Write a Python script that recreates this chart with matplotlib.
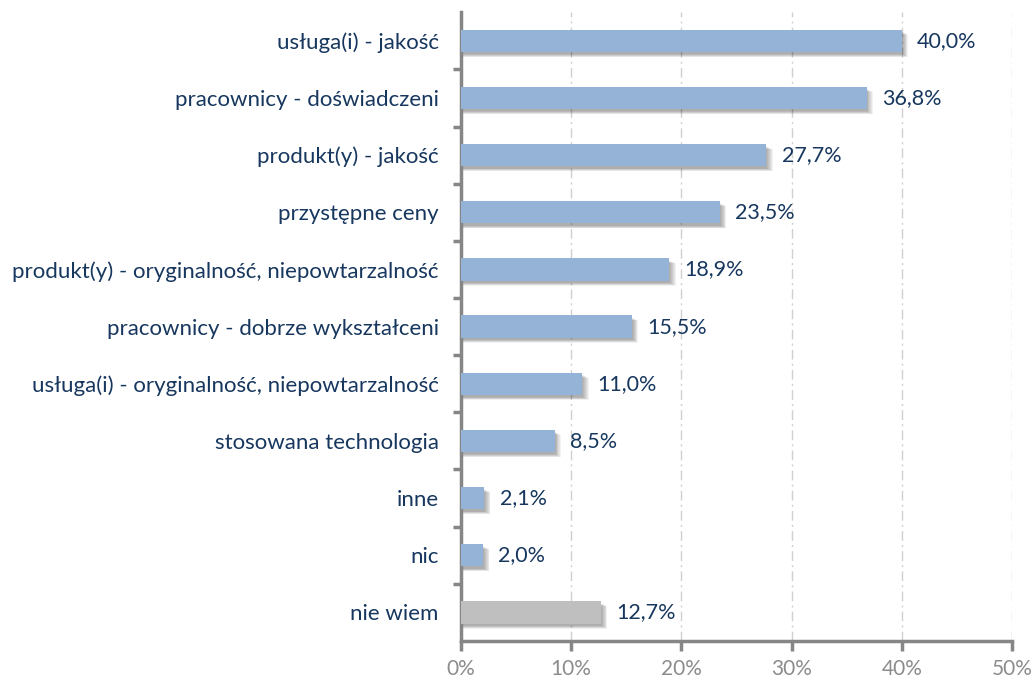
import matplotlib.pyplot as plt
from matplotlib.patches import Rectangle
import numpy as np

plt.rcParams['font.family'] = ['Lato', 'DejaVu Sans']

# dane
categories = ['usługa(i) - jakość', 'pracownicy - doświadczeni', 'produkt(y) - jakość',
              'przystępne ceny', 'produkt(y) - oryginalność, niepowtarzalność',
              'pracownicy - dobrze wykształceni', 'usługa(i) - oryginalność, niepowtarzalność',
              'stosowana technologia', 'inne', 'nic', 'nie wiem']
values = [40.0, 36.8, 27.7, 23.5, 18.9, 15.5, 11.0, 8.5, 2.1, 2.0, 12.7]
bar_colors = ['#95B3D7'] * 10 + ['#BFBFBF']
xticks = [0, 10, 20, 30, 40, 50]

text_col = '#17375E'
axis_col = '#868686'

fig = plt.figure(figsize=(10.34, 6.8), dpi=100)
ax = fig.add_axes([0.4458, 0.0574, 0.5329, 0.9246])

y = np.arange(len(categories))
h = 0.39

# cien pod slupkami (rozmyty, przesuniety w prawo i w dol)
for k in range(7):
    off = 0.1 + k * 0.08
    for yi, v in zip(y, values):
        ax.add_patch(Rectangle((0, yi - h / 2 + 0.03 + off * 0.1), v + off, h,
                               color='#000000', alpha=0.05, lw=0, zorder=1))

ax.barh(y, values, height=h, color=bar_colors, zorder=3)

for yi, v in zip(y, values):
    ax.text(v + 1.4, yi, f'{v:.1f}%'.replace('.', ','), va='center', ha='left',
            fontsize=15.5, color=text_col, zorder=4)

ax.set_ylim(len(categories) - 0.5, -0.5)
ax.set_xlim(0, 50)

ax.set_yticks(y)
ax.set_yticklabels(categories, fontsize=16, color=text_col)
ax.tick_params(axis='y', which='major', length=0, pad=16)
ax.set_yticks(np.arange(0.5, len(categories) - 1, 1), minor=True)
ax.tick_params(axis='y', which='minor', length=6, width=2.5, color=axis_col, direction='out')

ax.set_xticks(xticks)
ax.set_xticklabels([f'{t}%' for t in xticks], fontsize=15, color='#8C8C8C')
ax.tick_params(axis='x', length=7, width=2.5, color=axis_col, direction='out', pad=6)

for t in xticks[1:]:
    ax.axvline(t, color='#D0D0D0', lw=1, ls=(0, (7, 3, 1.5, 3)), zorder=0)

for s in ['top', 'right']:
    ax.spines[s].set_visible(False)
for s in ['left', 'bottom']:
    ax.spines[s].set_color(axis_col)
    ax.spines[s].set_linewidth(2.5)

fig.savefig('out.png', dpi=100)
